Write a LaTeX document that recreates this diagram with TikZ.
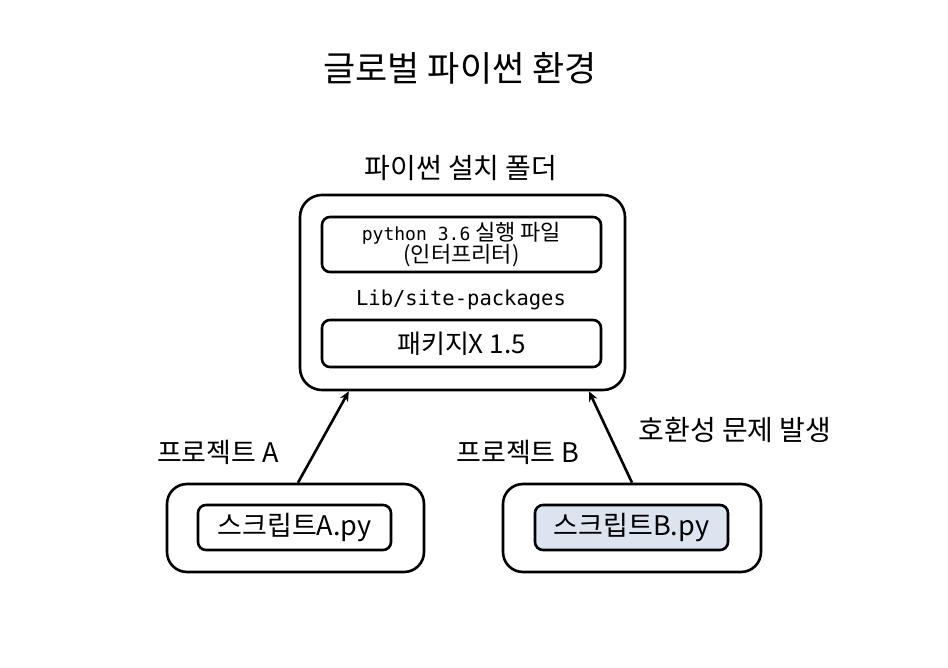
\documentclass[tikz,border=0pt]{standalone}
\usepackage{fontspec}
\setmainfont{Noto Sans CJK KR}
\newfontfamily\monofont[Scale=0.82]{DejaVu Sans Mono}
\usetikzlibrary{arrows.meta}
\definecolor{scriptblue}{HTML}{DCE4F0}

\begin{document}
\begin{tikzpicture}[
    x=1pt, y=-1pt,
    outer/.style={rectangle, draw, line width=2.6pt, rounded corners=22pt, inner sep=0pt},
    inner/.style={rectangle, draw, line width=2.6pt, rounded corners=8pt, inner sep=0pt, align=center},
    lbl/.style={inner sep=0pt, font=\fontsize{27}{30}\selectfont},
    arrow/.style={-{Stealth[length=10pt,width=9pt]}, line width=2.6pt}
]
\useasboundingbox (0,0) rectangle (948,668);

% Title
\node[inner sep=0pt, font=\fontsize{35}{40}\selectfont] (title) at (460,68) {글로벌 파이썬 환경};

% Installation folder
\node[lbl, font=\fontsize{28}{30}\selectfont] (folder_label) at (461,168) {파이썬 설치 폴더};
\node[outer, minimum width=325, minimum height=195] (folder) at (462.5,292.5) {};
\node[inner, minimum width=279, minimum height=55, font=\fontsize{22}{22}\selectfont] (interp) at (461.5,244.5)
    {{\monofont python 3.6} 실행 파일\\(인터프리터)};
\node[lbl, font=\monofont\fontsize{25}{30}\selectfont] (sitepkg) at (461,300) {Lib/site-packages};
\node[inner, minimum width=279, minimum height=47, font=\fontsize{26}{28}\selectfont] (pkg) at (461.5,343.5) {패키지X 1.5};

% Projects
\node[outer, rounded corners=20pt, minimum width=257, minimum height=88] (projA) at (295.5,528) {};
\node[inner, minimum width=193, minimum height=45, font=\fontsize{27}{28}\selectfont] (scriptA) at (294.5,527.5) {스크립트A.py};
\node[outer, rounded corners=20pt, minimum width=258, minimum height=88] (projB) at (632,528) {};
\node[inner, fill=scriptblue, minimum width=193, minimum height=45, font=\fontsize{27}{28}\selectfont] (scriptB) at (631.5,527.5) {스크립트B.py};

% Labels
\node[lbl] (labelA) at (218,452) {프로젝트 A};
\node[lbl] (labelB) at (518,452) {프로젝트 B};
\node[lbl, font=\fontsize{28}{30}\selectfont] (conflict) at (735,430) {호환성 문제 발생};

% Connections
\draw[arrow] (projA.north) ++(2.5,0) -- (folder.221);
\draw[arrow] (projB.north) -- (folder.322);

\end{tikzpicture}
\end{document}
